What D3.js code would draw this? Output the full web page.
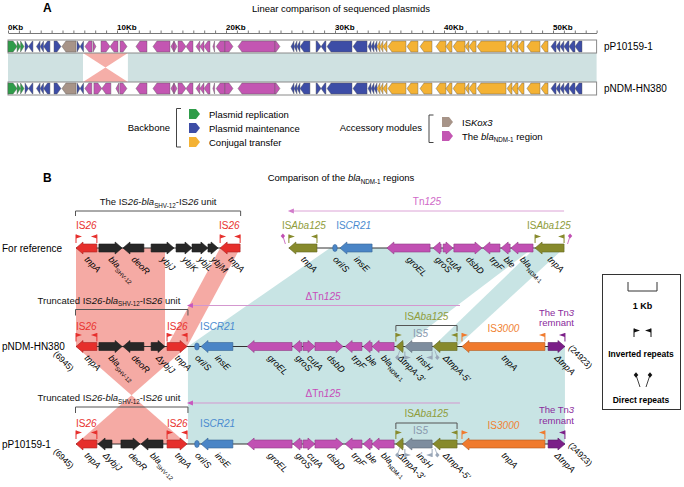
<!DOCTYPE html>
<html><head><meta charset="utf-8">
<script src="https://cdn.jsdelivr.net/npm/d3@7"></script>
<style>body{margin:0;background:#fff} svg{display:block;font-family:"Liberation Sans",Arial,Helvetica,sans-serif}</style>
</head><body>
<svg id="c" width="684" height="487"></svg>
<script>
// ================= DATA =================
// Panel A: plasmid length (kb), tick labels
const plasmidKb = 54;
const majorTicksKb = [0, 10, 20, 30, 40, 50];
const majorTickLabels = ["0Kb", "10Kb", "20Kb", "30Kb", "40Kb", "50Kb"];
const trackNames = ["pP10159-1", "pNDM-HN380"];
// genes shared by both plasmids: [startKb, endKb, strand, module]
const sharedGenes = [
  [0.00,0.83,1,"rep"],[0.83,1.15,1,"rep"],[1.15,1.47,1,"rep"],
  [1.56,1.88,1,"mnt"],[1.88,2.29,-1,"mnt"],[2.61,2.94,-1,"mnt"],[2.94,3.26,-1,"mnt"],[3.26,3.85,-1,"mnt"],[4.22,4.86,1,"mnt"],
  [4.95,6.24,-1,"isk"],
  [6.33,6.61,1,"mnt"],[6.61,6.93,-1,"mnt"],
  [11.74,12.75,-1,"ndm"],[13.30,14.86,-1,"ndm"],[14.95,15.23,-1,"ndm"],[15.23,15.50,1,"ndm"],[15.60,16.33,1,"ndm"],[16.33,16.97,-1,"ndm"],
  [17.25,17.60,-1,"ndm"],[17.60,17.98,-1,"ndm"],[17.98,18.53,-1,"ndm"],[18.80,18.95,-1,"ndm"],[19.10,19.90,-1,"ndm"],[19.90,20.64,1,"ndm"],
  [21.10,24.50,-1,"ndm"],[24.50,24.95,1,"ndm"],
  [25.96,26.24,-1,"mnt"],[26.24,26.51,-1,"mnt"],[26.51,26.79,-1,"mnt"],[26.79,27.70,-1,"mnt"],[28.26,28.72,1,"mnt"],[28.72,29.17,-1,"mnt"],
  [29.27,31.56,-1,"mnt"],[31.65,32.94,-1,"mnt"],[33.03,33.30,-1,"mnt"],[33.30,33.58,-1,"mnt"],[33.58,33.85,-1,"mnt"],
  [33.85,34.13,-1,"con"],[34.13,34.40,-1,"con"],[34.40,34.77,-1,"con"],[34.86,36.51,-1,"con"],[36.60,37.61,-1,"con"],[37.80,38.90,-1,"con"],
  [39.27,40.18,-1,"con"],[40.18,40.73,-1,"con"],[40.83,41.93,-1,"con"],[41.93,42.29,-1,"con"],[42.29,42.94,-1,"con"],[43.03,45.69,-1,"con"],
  [45.78,46.24,-1,"con"],[46.24,46.79,-1,"con"],[46.79,47.34,-1,"con"],[47.61,48.81,-1,"con"],[48.90,49.54,-1,"con"],
  [49.82,50.28,-1,"mnt"],[50.28,50.64,-1,"mnt"],[50.64,51.00,-1,"mnt"],[51.00,51.47,-1,"mnt"],[51.47,52.02,-1,"mnt"],[52.02,52.66,-1,"mnt"]
];
// inverted segment (kb) and its genes in each plasmid
const invertedKb = [6.88, 11.0];
const invGenesP10159 = [[7.06,7.71,-1,"ndm"],[7.80,8.07,1,"ndm"],[8.53,9.36,1,"ndm"],[9.36,10.09,-1,"ndm"],[10.28,10.92,1,"ndm"]];
const invGenesHN380  = [[7.05,7.69,-1,"ndm"],[7.88,8.61,1,"ndm"],[8.61,9.44,-1,"ndm"],[9.90,10.17,-1,"ndm"],[10.26,10.91,1,"ndm"]];
const backboneLegend = [["rep","Plasmid replication"],["mnt","Plasmid maintenance"],["con","Conjugal transfer"]];
const accessoryLegend = [["isk","IS*Kox3*"],["ndm","The *bla*_{NDM-1} region"]];

// Panel B: genes [startKb, endKb, strand(0 = oriIS), element, label]
const rowNames = ["For reference", "pNDM-HN380", "pP10159-1"];
const refGenes = [
  [0.00,0.72,-1,"is26","tnpA"],[0.79,1.59,1,"blk","bla_{SHV-12}"],[1.62,2.34,-1,"blk","deoR"],[2.59,3.38,1,"blk","ybjJ"],
  [3.45,4.00,1,"blk","ybjK"],[4.00,4.55,1,"blk","ybjL"],[4.55,4.90,1,"blk","ybjM"],[4.97,5.66,-1,"is26","tnpA"],
  [7.34,8.31,-1,"aba","tnpA"],[8.86,9.00,0,"cr","oriIS"],[9.10,10.21,-1,"cr","insE"],[10.72,12.21,-1,"tn","groEL"],
  [12.31,12.59,-1,"tn","groS"],[12.66,13.00,1,"tn","cutA"],[13.03,14.00,1,"tn","dsbD"],[14.03,14.62,-1,"tn","trpF"],
  [14.66,14.97,-1,"tn","ble"],[15.00,15.76,-1,"tn","bla_{NDM-1}"],[15.83,16.83,-1,"aba","tnpA"]
];
const hn380Head = [
  [0.00,0.72,-1,"is26","tnpA"],[0.79,1.59,1,"blk","bla_{SHV-12}"],[1.62,2.34,-1,"blk","deoR"],[2.59,3.07,1,"blk","ΔybjJ"],[3.14,3.83,1,"is26","tnpA"]
];
const p10159Head = [
  [0.00,0.72,-1,"is26","tnpA"],[0.76,1.24,-1,"blk","ΔybjJ"],[1.55,2.21,1,"blk","deoR"],[2.24,3.00,-1,"blk","bla_{SHV-12}"],[3.14,3.83,1,"is26","tnpA"]
];
const sharedTail = [
  [4.10,4.24,0,"cr","oriIS"],[4.31,5.41,-1,"cr","insE"],[5.90,7.45,-1,"tn","groEL"],[7.48,7.79,-1,"tn","groS"],
  [7.83,8.24,1,"tn","cutA"],[8.24,9.21,1,"tn","dsbD"],[9.28,9.86,-1,"tn","trpF"],[9.90,10.21,-1,"tn","ble"],
  [10.21,10.97,-1,"tn","bla_{NDM-1}"],[11.03,11.28,-1,"aba","ΔtnpA-3'"],[11.34,12.28,-1,"is5","insH"],
  [12.31,13.14,-1,"aba","ΔtnpA-5'"],[13.31,16.17,-1,"is3000","tnpA"],[16.28,16.86,1,"tn3","ΔtnpA"]
];
const rowSpans = [[[0,5.66],[7.34,16.83]], [[0,16.86]], [[0,16.86]]];
const rowCoords = [null, ["(6945)","(24923)"], ["(6945)","(24923)"]];
// inverted repeats [kb, direction, element]
const refIR = [[0,1,"is26"],[0.72,-1,"is26"],[4.97,1,"is26"],[5.66,-1,"is26"],[7.34,1,"aba"],[8.31,-1,"aba"],[15.83,1,"aba"],[16.83,-1,"aba"]];
const sharedIR = [[0,1,"is26"],[0.72,-1,"is26"],[3.14,1,"is26"],[3.83,-1,"is26"],[11.03,1,"aba"],[13.14,-1,"aba"],[13.31,1,"is3000"],[16.17,-1,"is3000"],[16.86,-1,"tn3"]];
const is5IR = [[11.34,1],[12.28,-1]];
const refDR = [[7.22,1],[16.95,-1]];
const is5DR = [[11.08,1],[12.46,-1]];
// element labels [markup, kb]
const refTags = [["IS*26*",0,"is26"],["IS*26*",4.93,"is26"],["IS*Aba125*",7.1,"aba"],["IS*CR21*",8.97,"cr"],["IS*Aba125*",15.55,"aba"]];
const sharedTags = [["IS*26*",0,"is26"],["IS*26*",3.14,"is26"],["IS*CR21*",4.28,"cr"]];
// homology blocks [row, [a0,a1] on upper row, [b0,b1] on lower row]
const pinkBlocks = [[0,[0,3.07],[0,3.07]],[0,[4.97,5.66],[3.14,3.83]],[1,[0,3.83],[3.83,0]]];
const blueBlocks = [[0,[8.76,15.76],[3.86,11.28]],[0,[15.83,16.83],[12.31,13.14]],[1,[3.86,16.86],[3.86,16.86]]];

// ================= DRAW =================
const svg = d3.select("#c");
const colA = {rep:"#2f9c49", mnt:"#3d4da6", con:"#f4b234", isk:"#a79488", ndm:"#c356b2"};
const colB = {is26:"#e62f2c", blk:"#272727", aba:"#878a2c", cr:"#4a85c6", tn:"#c150b3", is5:"#7e8d9e", is3000:"#f07a2d", tn3:"#7b1e88"};
const txtB = {is26:"#e8322e", aba:"#8f9c3a", cr:"#4a8bd0", is5:"#8898ad", is3000:"#f08232", tn3:"#8a2a9c"};

function rich(t, str, fs, baseItalic){
  const parts = str.split(/(\*|_\{|\})/);
  let it = !!baseItalic, sub = false, prev = false;
  parts.forEach(p => {
    if (p === "*") { it = !it; return; }
    if (p === "_{") { sub = true; return; }
    if (p === "}") { sub = false; return; }
    if (p === "") return;
    const s = t.append("tspan").text(p)
      .attr("font-style", (it && !sub) ? "italic" : "normal")
      .attr("font-size", sub ? fs*0.66 : fs);
    if (sub && !prev) s.attr("dy", fs*0.3);
    if (!sub && prev) s.attr("dy", -fs*0.3);
    prev = sub;
  });
  return t;
}
function arrowPts(x0,x1,y,h,bh,hl,dir){
  const head = Math.min(hl, x1-x0);
  if (dir > 0){ const xh = x1-head; return [[x0,y-bh/2],[xh,y-bh/2],[xh,y-h/2],[x1,y],[xh,y+h/2],[xh,y+bh/2],[x0,y+bh/2]]; }
  const xh = x0+head; return [[x1,y-bh/2],[xh,y-bh/2],[xh,y-h/2],[x0,y],[xh,y+h/2],[xh,y+bh/2],[x1,y+bh/2]];
}
const poly = pts => pts.map(p => p.join(",")).join(" ");

// ---- Panel A ----
svg.append("text").attr("x",43).attr("y",12).attr("font-size",12).attr("font-weight","bold").text("A");
svg.append("text").attr("x",341).attr("y",12).attr("text-anchor","middle").attr("font-size",9.5).text("Linear comparison of sequenced plasmids");
const xA = d3.scaleLinear().domain([0, plasmidKb]).range([8, 596.6]);
const axA = svg.append("g").attr("transform","translate(0,33)")
  .call(d3.axisTop(xA).tickValues(d3.range(0, plasmidKb+1, 1)).tickSize(2.5).tickSizeOuter(0).tickFormat(""));
axA.selectAll("path,line").attr("stroke","#777");
majorTicksKb.forEach((k,i) => svg.append("text").attr("x",xA(k)).attr("y",30).attr("font-size",8).attr("font-weight","bold").text(majorTickLabels[i]));

const trackY = [46.5, 88.5];
svg.append("rect").attr("x",xA(0)).attr("y",53).attr("width",xA(plasmidKb)-xA(0)).attr("height",29).attr("fill","#cfe1e1");
const ix0 = xA(invertedKb[0]), ix1 = xA(invertedKb[1]), ixm = (ix0+ix1)/2;
svg.append("rect").attr("x",ix0).attr("y",53).attr("width",ix1-ix0).attr("height",29).attr("fill","#fff");
svg.append("polygon").attr("points",poly([[ix0,53],[ix1,53],[ixm,67.5]])).attr("fill","#f5aea8");
svg.append("polygon").attr("points",poly([[ix0,82],[ix1,82],[ixm,67.5]])).attr("fill","#f5aea8");
trackY.forEach((y,ti) => {
  svg.append("rect").attr("x",xA(0)).attr("y",y-6.5).attr("width",xA(plasmidKb)-xA(0)).attr("height",13)
    .attr("fill","#fff").attr("stroke","#8a8a8a").attr("stroke-width",1);
  const genes = sharedGenes.concat(ti === 0 ? invGenesP10159 : invGenesHN380);
  svg.append("g").selectAll("polygon").data(genes).join("polygon")
    .attr("points", d => poly(arrowPts(xA(d[0]), xA(d[1]), y, 11, 11, 4, d[2])))
    .attr("fill", d => colA[d[3]]).attr("stroke","#555").attr("stroke-width",0.4);
  svg.append("text").attr("x",604).attr("y",y+3.5).attr("font-size",10).text(trackNames[ti]);
});
// legend A
svg.append("text").attr("x",170).attr("y",131).attr("text-anchor","end").attr("font-size",9.5).text("Backbone");
svg.append("path").attr("d","M181,108.5H176.5V147H181").attr("fill","none").attr("stroke","#444");
backboneLegend.forEach((d,i) => {
  const y = 114 + i*14;
  svg.append("polygon").attr("points",poly(arrowPts(189,200,y,10,10,4,1))).attr("fill",colA[d[0]]);
  svg.append("text").attr("x",209).attr("y",y+3.5).attr("font-size",9.5).text(d[1]);
});
svg.append("text").attr("x",422).attr("y",131).attr("text-anchor","end").attr("font-size",9.5).text("Accessory modules");
svg.append("path").attr("d","M433.5,115H429V142.5H433.5").attr("fill","none").attr("stroke","#444");
accessoryLegend.forEach((d,i) => {
  const y = 122 + i*14;
  svg.append("polygon").attr("points",poly(arrowPts(442,453,y,10,10,4,1))).attr("fill",colA[d[0]]);
  rich(svg.append("text").attr("x",462).attr("y",y+3.5), d[1], 9.5, false);
});

// ---- Panel B ----
svg.append("text").attr("x",43).attr("y",182).attr("font-size",12).attr("font-weight","bold").text("B");
rich(svg.append("text").attr("x",341).attr("y",181).attr("text-anchor","middle"), "Comparison of the *bla*_{NDM-1} regions", 9.5, false);
const xB = d3.scaleLinear().domain([0, 1]).range([76, 105]);  // 1 Kb = 29 px
const rowY = [248, 346.5, 444];
const rows = [refGenes, hn380Head.concat(sharedTail), p10159Head.concat(sharedTail)];

function link(blocks, fill){
  blocks.forEach(b => {
    const yT = rowY[b[0]], yB = rowY[b[0]+1];
    const a = b[1], c = b[2];
    if (c[0] > c[1]) { // inverted: bow-tie
      const ym = (yT+yB)/2, xm = (xB(a[0])+xB(a[1]))/2;
      svg.append("polygon").attr("points",poly([[xB(a[0]),yT],[xB(a[1]),yT],[xm,ym]])).attr("fill",fill);
      svg.append("polygon").attr("points",poly([[xB(c[1]),yB],[xB(c[0]),yB],[xm,ym]])).attr("fill",fill);
    } else {
      svg.append("polygon").attr("points",poly([[xB(a[0]),yT],[xB(a[1]),yT],[xB(c[1]),yB],[xB(c[0]),yB]])).attr("fill",fill);
    }
  });
}
link(blueBlocks, "#c8e4e4");
link(pinkBlocks, "#f5aaa4");

function flag(x, y, dir, color, below){
  const g = svg.append("g");
  if (!below){
    g.append("line").attr("x1",x).attr("x2",x).attr("y1",y-5).attr("y2",y-13.5).attr("stroke",color).attr("stroke-width",1);
    g.append("polygon").attr("points",poly([[x,y-13.5],[x+dir*6,y-11.5],[x,y-9.5]])).attr("fill",color);
  } else {
    g.append("line").attr("x1",x).attr("x2",x).attr("y1",y+5).attr("y2",y+13).attr("stroke",color).attr("stroke-width",1);
    g.append("polygon").attr("points",poly([[x,y+13],[x+dir*6,y+11],[x,y+9]])).attr("fill",color);
  }
}
function pin(x, y, dir, color, below){
  const yd = below ? y+11 : y-12;
  svg.append("line").attr("x1",x).attr("x2",x+dir*2.5).attr("y1",yd).attr("y2",below? y+4 : y-4).attr("stroke",color).attr("stroke-width",0.8);
  svg.append("polygon").attr("points",poly([[x,yd-2.6],[x+2.2,yd],[x,yd+2.6],[x-2.2,yd]])).attr("fill",color);
}
function tag(str, x, y, color, fs, anchor){
  rich(svg.append("text").attr("x",x).attr("y",y).attr("fill",color).attr("text-anchor",anchor||"start"), str, fs, false);
}

rows.forEach((genes, ri) => {
  const y = rowY[ri];
  svg.append("text").attr("x",2).attr("y",y+3.5).attr("font-size",10).text(rowNames[ri]);
  rowSpans[ri].forEach(s => svg.append("line").attr("x1",xB(s[0])).attr("x2",xB(s[1])).attr("y1",y).attr("y2",y).attr("stroke","#333").attr("stroke-width",1));
  const g = svg.append("g");
  genes.forEach(d => {
    const x0 = xB(d[0]), x1 = xB(d[1]);
    if (d[2] === 0){
      g.append("ellipse").attr("cx",(x0+x1)/2).attr("cy",y).attr("rx",(x1-x0)/2+0.3).attr("ry",3.6).attr("fill",colB[d[3]]).attr("stroke","#2f5f93").attr("stroke-width",0.5);
    } else {
      g.append("polygon").attr("points",poly(arrowPts(x0,x1,y,12,8,7,d[2])))
        .attr("fill",colB[d[3]]).attr("stroke",d3.color(colB[d[3]]).darker(0.8)).attr("stroke-width",0.6);
    }
    const cx = (x0+x1)/2;
    rich(svg.append("text").attr("transform",`translate(${cx-2.5},${y+12}) rotate(45)`), d[4], 9, true);
  });
  if (rowCoords[ri]){
    svg.append("text").attr("transform",`translate(53,${y+8}) rotate(45)`).attr("font-size",8.5).text(rowCoords[ri][0]);
    svg.append("text").attr("transform",`translate(568,${y+2}) rotate(45)`).attr("font-size",8.5).text(rowCoords[ri][1]);
  }
  const IR = ri === 0 ? refIR : sharedIR;
  IR.forEach(f => flag(xB(f[0]), y, f[1], colB[f[2]], false));
  if (ri === 0){
    refDR.forEach(p => pin(xB(p[0])-p[1]*2.5, y, p[1], "#c150b3", false));
    refTags.forEach(t => tag(t[0], xB(t[1]), y-19, txtB[t[2]], 10));
    // IS26 unit bracket
    svg.append("path").attr("d",`M${xB(0)-0.5},${y-32}V${y-37}H${xB(5.66)+0.5}V${y-32}`).attr("fill","none").attr("stroke","#555");
    tag("The IS*26*-*bla*_{SHV-12}-IS*26* unit", (xB(0)+xB(5.66))/2, y-43, "#111", 9.5, "middle");
    // Tn125
    svg.append("line").attr("x1",xB(7.34)+4).attr("x2",xB(16.83)).attr("y1",y-37).attr("y2",y-37).attr("stroke","#dca3d6").attr("stroke-width",1);
    svg.append("polygon").attr("points",poly([[xB(7.34)-1,y-37],[xB(7.34)+5,y-39.5],[xB(7.34)+5,y-34.5]])).attr("fill","#d27ccb");
    tag("Tn*125*", 427, y-43, "#d06ac8", 10, "middle");
  } else {
    is5IR.forEach(f => flag(xB(f[0]), y, f[1], "#9aa7b8", true));
    is5DR.forEach(p => pin(xB(p[0]), y, p[1], "#9aa7b8", true));
    sharedTags.forEach(t => tag(t[0], xB(t[1]), y-17, txtB[t[2]], 10));
    tag("IS*5*", xB(11.62), y-10, txtB.is5, 10);
    // ISAba125 bracket
    svg.append("path").attr("d",`M${xB(11.03)},${y-15}V${y-21}H${xB(13.14)}V${y-15}`).attr("fill","none").attr("stroke","#555");
    tag("IS*Aba125*", (xB(11.03)+xB(13.14))/2, y-27, txtB.aba, 10, "middle");
    tag("IS*3000*", (xB(13.31)+xB(16.17))/2, y-15, txtB.is3000, 10, "middle");
    tag("The Tn*3*", xB(16.57), y-31, txtB.tn3, 9.5, "middle");
    tag("remnant", xB(16.57), y-20.5, txtB.tn3, 9.5, "middle");
    // truncated IS26 unit
    svg.append("path").attr("d",`M${xB(0)-0.5},${y-31}V${y-37}H${xB(3.86)}V${y-31}`).attr("fill","none").attr("stroke","#555");
    tag("Truncated IS*26*-*bla*_{SHV-12}-IS*26* unit", 109, y-43, "#111", 9.5, "middle");
    // delta Tn125
    svg.append("line").attr("x1",xB(3.86)+4).attr("x2",xB(13.24)).attr("y1",y-41).attr("y2",y-41).attr("stroke","#d497cf").attr("stroke-width",1);
    svg.append("polygon").attr("points",poly([[xB(3.86)-1,y-41],[xB(3.86)+5,y-43.5],[xB(3.86)+5,y-38.5]])).attr("fill","#c857be");
    tag("ΔTn*125*", 323, y-47, "#c74cba", 10, "middle");
  }
});

// legend box B
svg.append("rect").attr("x",602.5).attr("y",274.5).attr("width",78).attr("height",135).attr("fill","none").attr("stroke","#333");
const sb0 = 628, sb1 = sb0 + (xB(1)-xB(0));
svg.append("path").attr("d",`M${sb0},282V291H${sb1}V282`).attr("fill","none").attr("stroke","#333");
svg.append("text").attr("x",(sb0+sb1)/2).attr("y",309).attr("text-anchor","middle").attr("font-size",9).attr("font-weight","bold").text("1 Kb");
flag(634, 342, 1, "#111", false);
flag(651, 342, -1, "#111", false);
svg.append("text").attr("x",641).attr("y",357).attr("text-anchor","middle").attr("font-size",8.5).attr("font-weight","bold").text("Inverted repeats");
svg.append("line").attr("x1",636).attr("y1",375).attr("x2",640).attr("y2",387).attr("stroke","#111").attr("stroke-width",0.8);
svg.append("line").attr("x1",650).attr("y1",375).attr("x2",646).attr("y2",387).attr("stroke","#111").attr("stroke-width",0.8);
[[636,375],[650,375]].forEach(p => svg.append("polygon").attr("points",poly([[p[0],p[1]-2.8],[p[0]+2.3,p[1]],[p[0],p[1]+2.8],[p[0]-2.3,p[1]]])).attr("fill","#111"));
svg.append("text").attr("x",641).attr("y",403).attr("text-anchor","middle").attr("font-size",8.5).attr("font-weight","bold").text("Direct repeats");
</script>
</body></html>
